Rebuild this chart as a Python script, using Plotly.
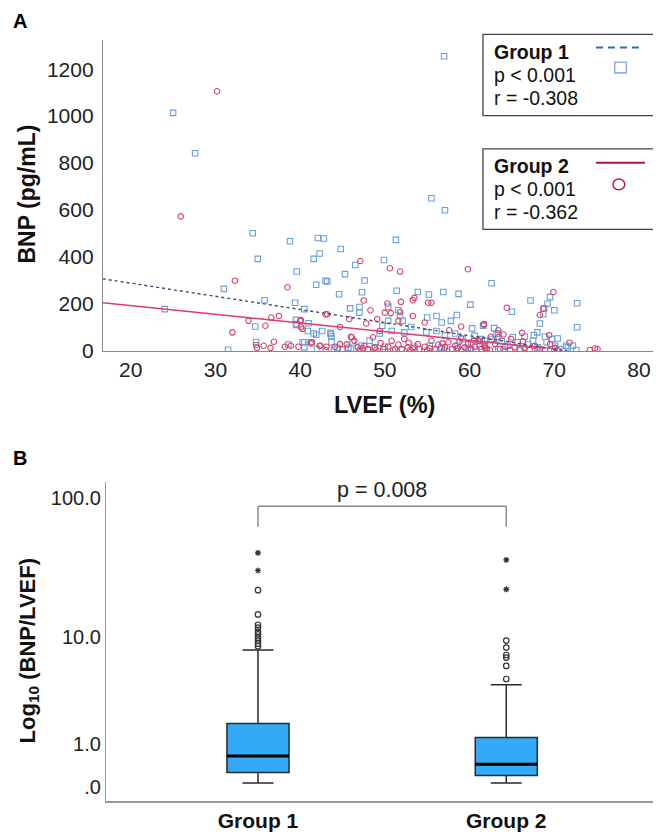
import numpy as np
import plotly.graph_objects as go

W, H = 661, 832

# ---------------- Panel A data ----------------
g1_lvef = [25.0, 27.6, 57.0, 55.5, 57.1, 51.3,
           24.0, 31.0, 31.5, 34.4, 35.0, 34.7, 34.8, 35.8, 38.8, 39.6, 39.4, 39.5, 39.6, 40.5, 41.0, 41.6,
           42.3, 41.9, 42.1, 42.8, 43.0, 43.2, 41.6, 42.6, 43.6, 43.7, 40.5,
           44.8, 46.5, 49.9, 45.3, 47.6, 44.6, 47.3, 51.4, 53.9, 55.2, 56.9, 58.7, 60.1, 45.9, 47.0, 47.0,
           50.4, 51.6, 56.1, 55.0, 58.5, 57.8, 56.7, 60.3, 61.6,
           62.6, 67.2, 69.5, 69.2, 68.8, 70.0, 68.7, 72.7, 68.3, 72.7, 65.0, 62.9, 68.0, 67.6, 70.4, 68.9,
           71.4, 72.6, 66.5, 61.4, 63.4,
           38.6, 40.3, 39.5,
           40.5, 41.3, 41.9, 43.6, 43.7, 44.4, 45.7, 48.2, 49.4, 49.7, 50.4, 50.8, 51.8, 52.1, 52.3, 53.1,
           54.9, 56.1, 57.1, 58.3, 59.2, 60.6, 60.2, 61.8, 40.9, 46.2, 47.2, 48.8, 50.0, 53.5, 55.3, 56.7,
           58.6, 59.8, 61.2,
           61.8, 62.6, 63.2, 63.8, 64.5, 65.1, 65.7, 66.9, 67.5, 68.0, 69.1, 69.7, 70.1, 70.6, 71.6, 72.2,
           61.4, 63.4,
           42.0, 44.0, 46.0, 48.0, 50.0, 52.0, 54.0, 56.0, 58.0, 60.0, 62.0, 64.0, 66.0, 68.0, 70.0]
g1_bnp = [1014, 842, 1255, 650, 599, 473,
          178, 264, 5, 501, 392, 104, 38, 216, 467, 338, 205, 132, 111, 178, 118, 392,
          415, 282, 481, 479, 299, 296, 74, 85, 77, 63, 37,
          434, 366, 387, 327, 300, 241, 250, 256, 251, 240, 251, 243, 197, 181, 187, 163,
          188, 173, 149, 142, 153, 128, 121, 96, 107,
          288, 215, 229, 201, 181, 173, 156, 203, 117, 101, 167, 97, 79, 67, 53, 60,
          22, 4, 60, 50, 74,
          27, 37, 114,
          15, 37, 69, 72, 37, 13, 13, 43, 74, 107, 128, 85, 149, 128, 79, 102,
          79, 85, 65, 74, 51, 65, 29, 43, 85, 37, 22, 15, 18, 18, 22, 15,
          22, 13, 18,
          27, 51, 72, 41, 22, 58, 37, 27, 43, 15, 37, 51, 22, 8, 15, 22,
          8, 8,
          8, 5, 6, 4, 6, 4, 8, 5, 7, 4, 6, 5, 8, 5, 6]

g2_lvef = [30.2, 25.9, 32.3, 38.5, 32.0, 33.9, 36.6, 37.5, 35.9, 40.1, 40.1, 40.3, 43.0, 34.8, 34.9,
           35.7, 36.9, 36.5, 38.2, 38.9, 39.8, 41.4, 42.4,
           47.1, 50.6, 51.8, 59.8, 47.5, 51.9, 53.3, 53.5, 55.1, 55.5, 50.3, 48.3, 50.0, 50.7, 51.8, 53.3,
           54.7, 45.8, 43.2, 44.7, 47.8, 49.1, 51.6, 57.6, 59.0, 61.7, 46.0,
           69.9, 64.4, 68.7, 68.3, 61.7, 66.2, 69.4, 63.4, 71.8, 74.2, 74.8, 75.1,
           40.0, 41.3, 42.3, 43.1, 44.1, 44.7, 46.1, 46.4, 46.8, 47.4, 47.6, 48.0, 48.6, 48.8, 49.4, 49.8,
           50.4, 50.8, 51.2, 51.6, 52.0, 52.3, 52.7, 53.3, 53.9, 54.1, 54.7, 55.3, 55.5, 55.9, 56.3, 57.1,
           57.5, 57.9, 58.3, 58.6, 59.0, 59.4, 59.8, 60.2, 60.6, 61.0, 61.4, 61.8, 62.0,
           61.2, 61.8, 62.4, 63.0, 63.6, 64.2, 64.8, 65.3, 65.9, 66.5, 67.1, 67.7, 68.3, 68.9, 69.5, 70.1,
           70.4, 64.9, 66.3, 63.4,
           43.0, 45.0, 47.0, 49.0, 51.0, 53.0, 55.0, 57.0, 59.0, 45.5, 49.5, 52.8, 56.8, 58.8, 60.5, 62.5,
           64.0]
g2_bnp = [1106, 573, 299, 271, 79, 128, 142, 149, 107, 131, 100, 93, 156, 25, 13,
          22, 39, 13, 18, 22, 18, 37, 22,
          383, 352, 338, 348, 215, 209, 216, 226, 205, 205, 202, 173, 163, 161, 166, 149,
          121, 136, 156, 102, 117, 135, 128, 88, 104, 111, 60,
          251, 184, 180, 153, 114, 77, 67, 88, 35, 4, 10, 8,
          128, 32, 22, 18, 18, 29, 58, 43, 15, 11, 22, 8, 58, 13, 85, 8,
          18, 43, 8, 27, 8, 51, 15, 11, 29, 8, 18, 11, 43, 8, 27, 15,
          37, 8, 22, 11, 55, 15, 29, 8, 18, 43, 8, 22, 11,
          43, 15, 4, 29, 8, 18, 4, 15, 4, 13, 4, 22, 8, 4, 29, 13,
          4, 51, 41, 58,
          4, 6, 3, 5, 3, 5, 3, 5, 3, 28, 33, 35, 32, 39, 45, 60,
          70]

# Fit lines: [intercept, slope, x_start, x_end]
fit_g1 = [400.5, -5.6, 16.7, 71.5]
fit_g2 = [266.8, -3.7, 16.7, 69.0]

legend_g1 = ["Group 1", "p < 0.001", "r = -0.308"]
legend_g2 = ["Group 2", "p < 0.001", "r = -0.362"]

# ---------------- Panel B data ----------------
box_groups = ["Group 1", "Group 2"]
box_pos = [0, 1]
box_q1 = [0.262, 0.204]
box_median = [0.643, 0.440]
box_q3 = [1.759, 1.21]
box_low = [0.065, 0.065]
box_up = [7.96, 4.14]
out_circles_g1 = [22.3, 14.8, 12.4, 11.8, 11.0, 10.5, 9.9, 9.4, 8.9, 8.5]
out_stars_g1 = [41.3, 30.9]
out_circles_g2 = [9.4, 8.3, 7.26, 6.93, 5.94, 4.63]
out_stars_g2 = [36.8, 22.6]
b_tick_vals = [0, 1, 10, 100]
b_tick_text = [".0", "1.0", "10.0", "100.0"]
p_text = "p = 0.008"


def tr(v):
    return np.log10(np.asarray(v, dtype=float) + 1.0)


def px(x):
    return x / W


def py(y):
    return 1 - y / H


FONT = "Liberation Sans, Arial, sans-serif"
BLUE = "#6a9fdc"
RED = "#d9416b"

fig = go.Figure()

# scatter points
fig.add_trace(go.Scatter(x=g1_lvef, y=g1_bnp, mode="markers", xaxis="x", yaxis="y",
                         marker=dict(symbol="square-open", size=5.5, color=BLUE, line=dict(width=1.1)),
                         showlegend=False))
fig.add_trace(go.Scatter(x=g2_lvef, y=g2_bnp, mode="markers", xaxis="x", yaxis="y",
                         marker=dict(symbol="circle-open", size=5.5, color=RED, line=dict(width=1.1)),
                         showlegend=False))
# fit lines
for fit, col, dash, wdt in [(fit_g1, "#3c4c72", "dot", 1.4), (fit_g2, "#e23a6a", "solid", 1.4)]:
    xs = np.array([fit[2], fit[3]])
    ys = fit[0] + fit[1] * xs
    fig.add_trace(go.Scatter(x=xs, y=ys, mode="lines", xaxis="x", yaxis="y",
                             line=dict(color=col, width=wdt, dash=dash), showlegend=False))

# boxes
for i in range(2):
    fig.add_trace(go.Box(x=[box_pos[i]], q1=[float(tr(box_q1[i]))], median=[float(tr(box_median[i]))],
                         q3=[float(tr(box_q3[i]))], lowerfence=[float(tr(box_low[i]))],
                         upperfence=[float(tr(box_up[i]))], xaxis="x2", yaxis="y2",
                         width=0.25, whiskerwidth=0.5, fillcolor="#33aaf7",
                         line=dict(color="#2a2a2a", width=1.5), boxpoints=False,
                         showlegend=False, hoverinfo="skip"))
    fig.add_trace(go.Scatter(x=[box_pos[i] - 0.125, box_pos[i] + 0.125],
                             y=[float(tr(box_median[i]))] * 2, mode="lines", xaxis="x2", yaxis="y2",
                             line=dict(color="#000000", width=3), showlegend=False))

for pos, circ, star in [(0, out_circles_g1, out_stars_g1), (1, out_circles_g2, out_stars_g2)]:
    fig.add_trace(go.Scatter(x=[pos] * len(circ), y=tr(circ), mode="markers", xaxis="x2", yaxis="y2",
                             marker=dict(symbol="circle-open", size=5.5, color="#333333",
                                         line=dict(width=1.2)), showlegend=False))
    fig.add_trace(go.Scatter(x=[pos] * len(star), y=tr(star), mode="markers", xaxis="x2", yaxis="y2",
                             marker=dict(symbol="asterisk-open", size=5, color="#333333",
                                         line=dict(width=1.2)), showlegend=False))

shapes = []
annotations = []

# bracket
br_top, br_bot = 1.950, 1.808
for (x0, y0, x1, y1) in [(0, br_bot, 0, br_top), (0, br_top, 1, br_top), (1, br_top, 1, br_bot)]:
    shapes.append(dict(type="line", xref="x2", yref="y2", x0=x0, y0=y0, x1=x1, y1=y1,
                       line=dict(color="#8a8a8a", width=1.5)))
annotations.append(dict(x=0.5, y=2.064, xref="x2", yref="y2", text=p_text, showarrow=False,
                        font=dict(size=21.5, color="#222", family=FONT)))

# legend boxes
for (y0, y1) in [(26.7, 109), (142.7, 224.3)]:
    shapes.append(dict(type="rect", xref="paper", yref="paper", x0=px(475), x1=px(656.7),
                       y0=py(y1), y1=py(y0), line=dict(color="#444", width=1.3)))
shapes.append(dict(type="line", xref="paper", yref="paper", x0=px(588), x1=px(635), y0=py(40), y1=py(40),
                   line=dict(color="#2f6cb8", width=2, dash="7px,5px")))
shapes.append(dict(type="line", xref="paper", yref="paper", x0=px(588), x1=px(637), y0=py(156.7),
                   y1=py(156.7), line=dict(color="#b3163c", width=2)))
shapes.append(dict(type="rect", xref="paper", yref="paper", x0=px(606.7), x1=px(618.3), y0=py(65.7),
                   y1=py(55), line=dict(color="#8ab8e6", width=1.6)))
shapes.append(dict(type="circle", xref="paper", yref="paper", x0=px(605), x1=px(616.7), y0=py(184.3),
                   y1=py(173.3), line=dict(color="#b3163c", width=1.4)))

for texts, ys in [(legend_g1, [45, 68.3, 91.7]), (legend_g2, [160, 183.3, 207])]:
    for j, (t, yy) in enumerate(zip(texts, ys)):
        annotations.append(dict(x=px(484), y=py(yy), xref="paper", yref="paper", xanchor="left",
                                yanchor="middle", showarrow=False,
                                text=("<b>%s</b>" % t) if j == 0 else t,
                                font=dict(size=19.5, color="#111", family=FONT)))

# panel letters and axis titles
annotations += [
    dict(x=px(3), y=py(13), xref="paper", yref="paper", xanchor="left", yanchor="middle",
         text="<b>A</b>", showarrow=False, font=dict(size=20, color="#000", family=FONT)),
    dict(x=px(3), y=py(456), xref="paper", yref="paper", xanchor="left", yanchor="middle",
         text="<b>B</b>", showarrow=False, font=dict(size=20, color="#000", family=FONT)),
    dict(x=px(19), y=py(189), xref="paper", yref="paper", xanchor="center", yanchor="middle",
         text="<b>BNP (pg/mL)</b>", textangle=-90, showarrow=False,
         font=dict(size=23, color="#111", family=FONT)),
    dict(x=px(376), y=py(402), xref="paper", yref="paper", xanchor="center", yanchor="middle",
         text="<b>LVEF (%)</b>", showarrow=False, font=dict(size=23.5, color="#111", family=FONT)),
    dict(x=px(21), y=py(652), xref="paper", yref="paper", xanchor="center", yanchor="middle",
         text="<b>Log<sub>10</sub> (BNP/LVEF)</b>", textangle=-90, showarrow=False,
         font=dict(size=22, color="#111", family=FONT)),
]

axis_common = dict(showgrid=False, zeroline=False, showline=True, ticks="",
                   tickfont=dict(size=21, color="#222", family=FONT))

fig.update_layout(
    width=W, height=H, margin=dict(l=0, r=0, t=0, b=0),
    paper_bgcolor="white", plot_bgcolor="white", showlegend=False,
    xaxis=dict(domain=[px(95), px(658)], range=[16.73, 83.19], anchor="y",
               tickvals=[20, 30, 40, 50, 60, 70, 80], linecolor="#888", linewidth=1.3, **axis_common),
    yaxis=dict(domain=[py(347.5), py(32)], range=[0, 1326], anchor="x",
               tickvals=[0, 200, 400, 600, 800, 1000, 1200], linecolor="#888", linewidth=1.3,
               ticklabelstandoff=4, **axis_common),
    xaxis2=dict(domain=[px(98), px(649)], range=[-0.612, 1.607], anchor="y2",
                tickvals=box_pos, ticktext=["<b>%s</b>" % g for g in box_groups],
                linecolor="#999", linewidth=2, showgrid=False, zeroline=False, showline=True, ticks="",
                tickfont=dict(size=21, color="#111", family=FONT)),
    yaxis2=dict(domain=[py(803.3), py(480)], range=[-0.0946, 2.121], anchor="x2",
                tickvals=list(tr(b_tick_vals)), ticktext=b_tick_text, linecolor="#999", linewidth=1.2,
                showgrid=False, zeroline=False, showline=True, ticks="",
                tickfont=dict(size=20, color="#222", family=FONT)),
    shapes=shapes, annotations=annotations,
)

fig.write_html("out.html")
